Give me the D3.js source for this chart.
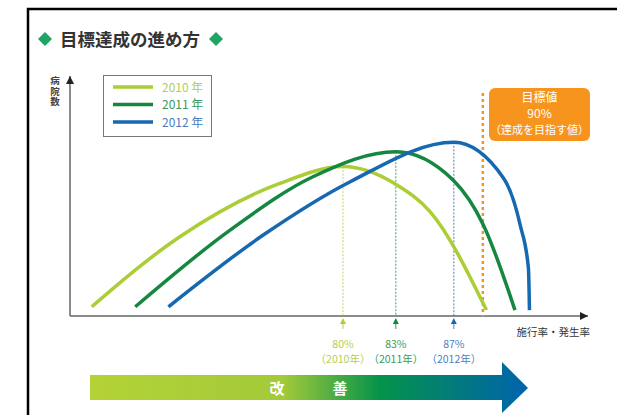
<!DOCTYPE html>
<html>
<head>
<meta charset="utf-8">
<script src="https://cdn.jsdelivr.net/npm/d3@7"></script>
<style>
  body { margin: 0; background: #fff; }
  text { font-family: "Noto Sans CJK JP", "Noto Sans", sans-serif; }
</style>
</head>
<body>
<div id="chart"></div>
<script>
// series (x = rate along axis 0-100, y = number of hospitals 0-100)
var years = ["2010", "2011", "2012"];
var curve2010 = [[4.2,3.9],[21.2,33.6],[40.5,56.2],[52.7,63.3],[63.1,55.5],[69.5,44.2],[80.4,2.5]];
var curve2011 = [[12.6,3.9],[30.9,36.4],[46.9,59.0],[62.9,69.6],[74.0,57.5],[79.8,38.6],[85.9,2.5]];
var curve2012 = [[19.0,3.9],[37.3,34.3],[54.1,56.9],[74.1,73.6],[83.7,58.4],[86.9,38.6],[88.5,20.2],[88.7,2.5]];
var peakLabels = ["80%", "83%", "87%"];
var targetRate = 79.7;
var targetLines = ["目標値", "90%", "（達成を目指す値）"];

var colors = ["#abcd35", "#14883f", "#1668b0"];
var labelColors = ["#b0cf55", "#3a9a5e", "#4a80c2"];

var w = 617, h = 415;
var svg = d3.select("#chart").append("svg").attr("width", w).attr("height", h);

var xScale = d3.scaleLinear().domain([0, 100]).range([70, 588]);
var yScale = d3.scaleLinear().domain([0, 100]).range([316, 80]);

// frame
svg.append("path").attr("d", "M28,415V9H617").attr("fill", "none")
  .attr("stroke", "#000").attr("stroke-width", 2.5);

// title
function diamond(cx, cy) {
  svg.append("path")
    .attr("d", "M" + cx + "," + (cy - 7) + "L" + (cx + 7) + "," + cy + "L" + cx + "," + (cy + 7) + "L" + (cx - 7) + "," + cy + "Z")
    .attr("fill", "#1fa463");
}
diamond(45, 39);
diamond(216, 39);
svg.append("text").attr("x", 60).attr("y", 45.5).attr("font-size", "17.5px")
  .attr("font-weight", "bold").attr("fill", "#333").text("目標達成の進め方");

// arrow markers
var defs = svg.append("defs");
defs.append("marker").attr("id", "axArrow").attr("viewBox", "0 0 10 10")
  .attr("refX", 10).attr("refY", 5).attr("markerWidth", 10).attr("markerHeight", 8)
  .attr("markerUnits", "userSpaceOnUse").attr("orient", "auto")
  .append("path").attr("d", "M0,0L10,5L0,10Z").attr("fill", "#222");

// axes
svg.append("line").attr("x1", xScale(0)).attr("x2", xScale(0))
  .attr("y1", yScale(0)).attr("y2", yScale(100) - 4)
  .attr("stroke", "#666").attr("stroke-width", 1.5).attr("marker-end", "url(#axArrow)");
svg.append("line").attr("x1", xScale(0)).attr("x2", xScale(100))
  .attr("y1", yScale(0)).attr("y2", yScale(0))
  .attr("stroke", "#666").attr("stroke-width", 1.5).attr("marker-end", "url(#axArrow)");

// axis labels
svg.append("text").attr("x", 55).attr("y", 76)
  .style("writing-mode", "vertical-rl").attr("letter-spacing", "1px")
  .attr("font-size", "9.5px").attr("font-weight", "bold")
  .attr("fill", "#444").text("病院数");
svg.append("text").attr("x", 590).attr("y", 336).attr("text-anchor", "end")
  .attr("font-size", "10.5px").attr("fill", "#333").text("施行率・発生率");

var series = [curve2010, curve2011, curve2012];
var line = d3.line()
  .x(function(d) { return xScale(d[0]); })
  .y(function(d) { return yScale(d[1]); })
  .curve(d3.curveMonotoneX);

// dashed peak lines + markers under axis
series.forEach(function(s, i) {
  var peak = s.reduce(function(a, b) { return b[1] > a[1] ? b : a; });
  var px = xScale(peak[0]);
  svg.append("line").attr("x1", px).attr("x2", px)
    .attr("y1", yScale(peak[1])).attr("y2", yScale(0))
    .attr("stroke", colors[i]).attr("stroke-width", 1)
    .attr("stroke-dasharray", "2,1.5").attr("opacity", 0.8);
  svg.append("line").attr("x1", px).attr("x2", px)
    .attr("y1", yScale(0) + 6).attr("y2", yScale(0) + 13)
    .attr("stroke", labelColors[i]).attr("stroke-width", 1);
  svg.append("path")
    .attr("d", "M" + px + "," + (yScale(0) + 2) + "L" + (px + 3) + "," + (yScale(0) + 8) + "L" + (px - 3) + "," + (yScale(0) + 8) + "Z")
    .attr("fill", colors[i]);
  svg.append("text").attr("x", px).attr("y", yScale(0) + 32).attr("text-anchor", "middle")
    .attr("font-size", "10.5px").attr("fill", labelColors[i]).text(peakLabels[i]);
  svg.append("text").attr("x", px).attr("y", yScale(0) + 47).attr("text-anchor", "middle")
    .attr("font-size", "10.5px").attr("fill", labelColors[i]).text("（" + years[i] + "年）");
});

// target line
svg.append("line").attr("x1", xScale(targetRate)).attr("x2", xScale(targetRate))
  .attr("y1", 93).attr("y2", yScale(0))
  .attr("stroke", "#f7941d").attr("stroke-width", 2.5).attr("stroke-dasharray", "3,3");

// curves
svg.append("g").selectAll("path").data(series).enter().append("path")
  .attr("d", line).attr("fill", "none")
  .attr("stroke", function(d, i) { return colors[i]; })
  .attr("stroke-width", 3.5).attr("stroke-linecap", "butt");

// target box
svg.append("rect").attr("x", 489).attr("y", 88).attr("width", 101).attr("height", 53)
  .attr("rx", 6).attr("fill", "#f7941d");
svg.append("g").selectAll("text").data(targetLines).enter().append("text")
  .attr("x", 539.5).attr("y", function(d, i) { return 102 + i * 16; })
  .attr("text-anchor", "middle").attr("fill", "#fff")
  .attr("font-size", function(d, i) { return i === 2 ? "11px" : "12px"; })
  .text(function(d) { return d; });

// legend
var legend = svg.append("g");
legend.append("rect").attr("x", 103.5).attr("y", 75.5).attr("width", 108).attr("height", 61)
  .attr("fill", "#fff").attr("stroke", "#777").attr("stroke-width", 1);
years.forEach(function(y, i) {
  var ly = 87 + i * 17.5;
  legend.append("line").attr("x1", 113).attr("x2", 153).attr("y1", ly).attr("y2", ly)
    .attr("stroke", colors[i]).attr("stroke-width", 3.5);
  legend.append("text").attr("x", 162).attr("y", ly + 4.5).attr("font-size", "12px")
    .attr("fill", labelColors[i]).text(y + " 年");
});

// bottom improvement arrow
var grad = defs.append("linearGradient").attr("id", "improve")
  .attr("gradientUnits", "userSpaceOnUse")
  .attr("x1", 90).attr("x2", 528).attr("y1", 0).attr("y2", 0);
[[0, "#b3d236"], [0.44, "#a3ca3a"], [0.66, "#05934a"], [1, "#0063ad"]].forEach(function(s) {
  grad.append("stop").attr("offset", s[0]).attr("stop-color", s[1]);
});
svg.append("path")
  .attr("d", "M90,375H502V362L528,388L502,413V400H90Z")
  .attr("fill", "url(#improve)");
svg.append("text").attr("x", 277).attr("y", 393.5).attr("text-anchor", "middle")
  .attr("font-size", "15px").attr("font-weight", "bold").attr("fill", "#fff").text("改");
svg.append("text").attr("x", 340).attr("y", 393.5).attr("text-anchor", "middle")
  .attr("font-size", "15px").attr("font-weight", "bold").attr("fill", "#fff").text("善");
</script>
</body>
</html>
